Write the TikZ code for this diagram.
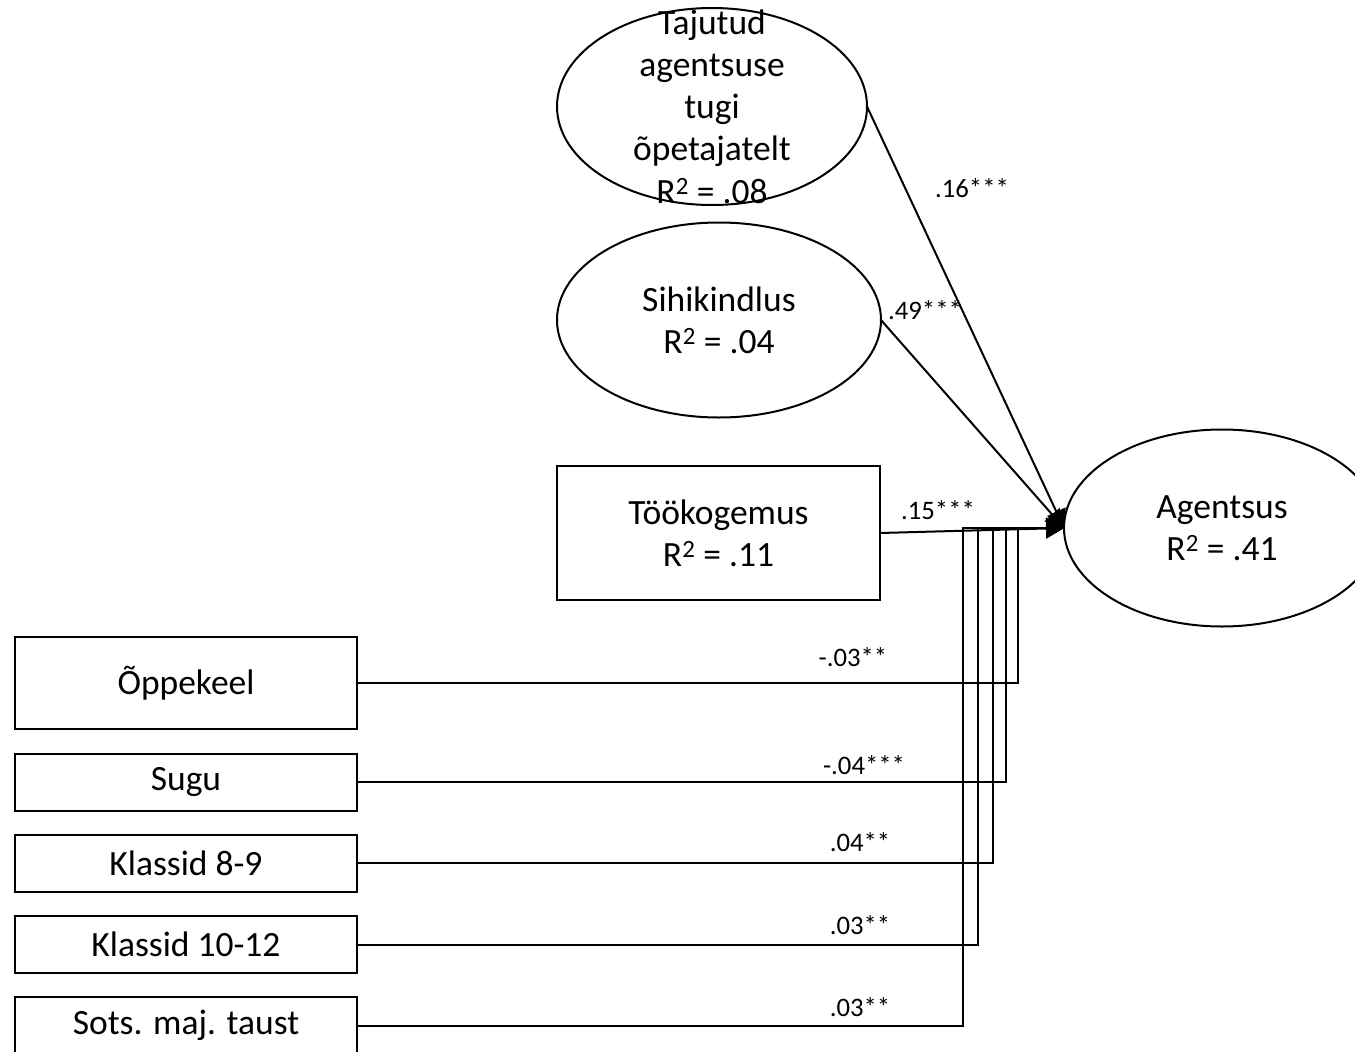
\documentclass[tikz,border=0pt]{standalone}
\usepackage{fontspec}
\setmainfont{Carlito}
\usetikzlibrary{shapes.geometric, arrows.meta}

\begin{document}
\begin{tikzpicture}[x=1pt, y=-1pt,
    var_text/.style={align=center, font=\fontsize{35.5}{42.3}\selectfont},
    latent/.style={ellipse, draw, line width=2pt, inner sep=0pt, outer sep=0pt, var_text},
    observed/.style={rectangle, draw, line width=2pt, inner sep=0pt, outer sep=0pt, var_text},
    control/.style={observed, minimum width=342pt, minimum height=57pt},
    coef_label/.style={font=\fontsize{26.7}{32}\selectfont},
    path_arrow/.style={line width=2pt, -{Triangle[length=18pt, width=20pt]}}
]
    \path[fill=white, use as bounding box] (0,0) rectangle (1355,1052);
    % Latentsed tunnused
    \node[latent, minimum width=310pt, minimum height=197pt] (tajutud) at (712,106.5) {};
    \node[var_text] (tajutud_text) at (tajutud.center) {Tajutud\\agentsuse\\tugi\\õpetajatelt\\R\textsuperscript{2} = .08};
    \node[latent, minimum width=324pt, minimum height=195pt] (sihikindlus) at (719,320) {Sihikindlus\\R\textsuperscript{2} = .04};
    \node[latent, minimum width=316pt, minimum height=197pt] (agentsus) at (1222,528) {Agentsus\\R\textsuperscript{2} = .41};
    % Vaadeldavad tunnused
    \node[observed, minimum width=323pt, minimum height=134pt] (tookogemus) at (718.5,533) {Töökogemus\\R\textsuperscript{2} = .11};
    \node[control, minimum height=92pt] (oppekeel) at (186,683) {Õppekeel};
    \node[control] (sugu) at (186,782) {Sugu};
    \node[control] (klassid89) at (186,863) {Klassid 8-9};
    \node[control] (klassid1012) at (186,944.5) {Klassid 10-12};
    \node[control] (sotsmaj) at (186,1025.5) {Sots. maj. taust};
    % Murdepunktid
    \coordinate (bend1) at (1018,528);
    \coordinate (bend2) at (1006,528);
    \coordinate (bend3) at (993,528);
    \coordinate (bend4) at (978,528);
    \coordinate (bend5) at (963,528);
    % Seosed
    \draw[path_arrow] (tajutud.east) -- (agentsus.west);
    \draw[path_arrow] (sihikindlus.east) -- (agentsus.west);
    \draw[path_arrow] (tookogemus.east) -- (agentsus.west);
    \draw[path_arrow] (oppekeel.east) -| (bend1) -- (agentsus.west);
    \draw[path_arrow] (sugu.east) -| (bend2) -- (agentsus.west);
    \draw[path_arrow] (klassid89.east) -| (bend3) -- (agentsus.west);
    \draw[path_arrow] (klassid1012.east) -| (bend4) -- (agentsus.west);
    \draw[path_arrow] (sotsmaj.east) -| (bend5) -- (agentsus.west);
    % Koefitsiendid
    \node[coef_label] (c_tajutud) at (972,188) {.16***};
    \node[coef_label] (c_sihik) at (925,310) {.49***};
    \node[coef_label] (c_tooko) at (938,510) {.15***};
    \node[coef_label] (c_oppe) at (853,657) {-.03**};
    \node[coef_label] (c_sugu) at (864,765) {-.04***};
    \node[coef_label] (c_kl89) at (860,842) {.04**};
    \node[coef_label] (c_kl1012) at (860,925) {.03**};
    \node[coef_label] (c_sots) at (860,1007) {.03**};
\end{tikzpicture}
\end{document}
